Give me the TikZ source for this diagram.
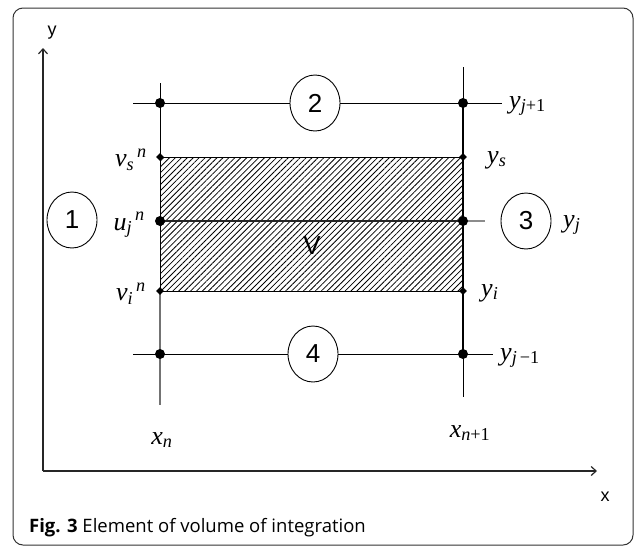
\documentclass[tikz,border=0pt]{standalone}
\usepackage{fontspec}
\setmainfont{Liberation Serif}
\newfontfamily\capfont{Open Sans}
\newfontfamily\numfont{Liberation Sans}
\usetikzlibrary{patterns.meta,arrows.meta,shapes.geometric}
\newcommand\lsub[2]{\textit{#1}\textsubscript{#2}}
\newcommand\lsubsup[3]{\textit{#1}\textsubscript{\textit{#2}}\textsuperscript{\,\textit{#3}}}
\begin{document}
\begin{tikzpicture}[x=1pt,y=-1pt,
 dot/.style={circle,fill=black,inner sep=0pt,minimum size=10pt},
 dia/.style={diamond,fill=black,inner sep=0pt,minimum size=8pt},
 num/.style={ellipse,draw,line width=0.9pt,fill=white,minimum width=50pt,minimum height=56pt,inner sep=0pt,font=\numfont\fontsize{26}{26}\selectfont},
 lab/.style={font=\fontsize{26}{26}\selectfont,inner sep=0pt},
 ln/.style={line width=1pt},
 axis/.style={line width=1.2pt,black!85,-{Straight Barb[length=5pt,width=9pt]}}]
\useasboundingbox (0,0) rectangle (634,547);
\draw[line width=1pt, rounded corners=10pt, black!80] (13,8) rectangle (633,545);
% axes
\coordinate (O) at (43,471);
\coordinate (Ytop) at (43,48);
\coordinate (Xend) at (597,471);
\draw[axis] (O) -- (Ytop);
\draw[axis] (O) -- (Xend);
\node[font=\numfont\fontsize{18}{18}\selectfont] (ylab) at (52,33) {y};
\node[font=\numfont\fontsize{18}{18}\selectfont] (xlab) at (605,497) {x};
% hatched region
\fill[pattern={Lines[angle=45,distance=4.2pt,line width=0.8pt]}] (160,157) rectangle (463,291);
% grid points
\coordinate (L1) at (160,103); \coordinate (R1) at (463,103);
\coordinate (Ls) at (160,157); \coordinate (Rs) at (463,157);
\coordinate (Lu) at (160,221); \coordinate (Ru) at (463,221);
\coordinate (Li) at (160,291); \coordinate (Ri) at (463,291);
\coordinate (L4) at (160,354); \coordinate (R4) at (463,354);
\coordinate (Ltop) at (160,83); \coordinate (Lbot) at (160,405);
\coordinate (Rtop) at (463,67); \coordinate (Rbot) at (463,397);
\coordinate (A1) at (133,103); \coordinate (B1) at (502,103);
\coordinate (A4) at (133,354); \coordinate (B4) at (493,354);
\coordinate (Ue) at (485,221);
% vertical lines
\draw[ln] (Ltop) -- (Li);
\draw[ln,black!55,line width=1.3pt] (Li) -- (Lbot);
\draw[ln] (Rtop) -- (R1);
\draw[line width=2.5pt] (R1) -- (R4);
\draw[ln] (R4) -- (Rbot);
% horizontal lines
\draw[ln] (A1) -- (B1);
\draw[ln] (Ls) -- (Rs);
\draw[ln,line width=1.3pt,black!85] (Lu) -- (Ru);
\draw[ln,line width=1.5pt,black!45] (Ru) -- (Ue);
\draw[ln] (Li) -- (Ri);
\draw[ln] (A4) -- (B4);
% markers
\foreach \p in {L1,R1,Lu,Ru,L4,R4} \node[dot] at (\p) {};
\foreach \p in {Ls,Rs,Li,Ri} \node[dia] at (\p) {};
% numbered circles
\node[num] (c1) at (72,220) {1};
\node[num] (c2) at (315,103) {2};
\node[num] (c3) at (526,221) {3};
\node[num] (c4) at (313,354) {4};
% labels
\node[lab,anchor=east] (vs) at (147,160) {\lsubsup{v}{s}{n}};
\node[lab,anchor=east] (uj) at (145,225) {\lsubsup{u}{j}{n}};
\node[lab,anchor=east] (vi) at (146,294) {\lsubsup{v}{i}{n}};
\node[lab] (xn) at (162,440) {\lsub{x}{\textit{n}}};
\node[lab] (xn1) at (470,433) {\lsub{x}{\textit{n}+1}};
\node[lab,anchor=west] (yj1) at (509,106) {\lsub{y}{\textit{j}+1}};
\node[lab,anchor=west] (ys) at (487,160) {\lsub{y}{\textit{s}}};
\node[lab,anchor=west] (yj) at (563,225) {\lsub{y}{\textit{j}}};
\node[lab,anchor=west] (yi) at (481,293) {\lsub{y}{\textit{i}}};
\node[lab,anchor=west] (yjm) at (500,358) {\lsub{y}{\textit{j}\,\textminus1}};
\node[font=\numfont\fontsize{26}{26}\selectfont,inner sep=0pt] (V) at (312,246) {V};
% caption
\node[anchor=west,inner sep=0pt,font=\capfont\fontsize{18.5}{18.5}\selectfont] (cap) at (29,528) {\textbf{Fig. 3} Element of volume of integration};
\end{tikzpicture}
\end{document}
